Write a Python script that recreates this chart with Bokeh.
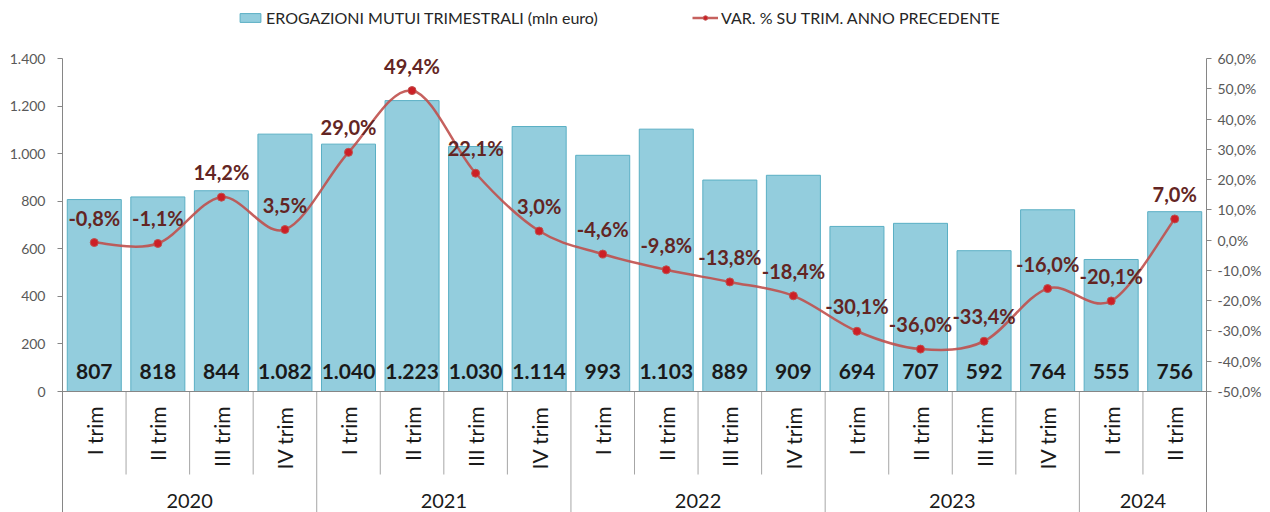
import numpy as np
from bokeh.plotting import figure
from bokeh.models import (Range1d, LinearAxis, FixedTicker, Span, Legend, LegendItem,
                          ColumnDataSource)
from bokeh.core.properties import value
from bokeh.embed import file_html
from bokeh.resources import INLINE

# ---------------- data ----------------
quarters = ["I trim", "II trim", "III trim", "IV trim",
            "I trim", "II trim", "III trim", "IV trim",
            "I trim", "II trim", "III trim", "IV trim",
            "I trim", "II trim", "III trim", "IV trim",
            "I trim", "II trim"]
years = ["2020", "2021", "2022", "2023", "2024"]
year_sizes = [4, 4, 4, 4, 2]
erogazioni = [807, 818, 844, 1082, 1040, 1223, 1030, 1114, 993, 1103,
              889, 909, 694, 707, 592, 764, 555, 756]
var_pct = [-0.8, -1.1, 14.2, 3.5, 29.0, 49.4, 22.1, 3.0, -4.6, -9.8,
           -13.8, -18.4, -30.1, -36.0, -33.4, -16.0, -20.1, 7.0]
left_ticks = [0, 200, 400, 600, 800, 1000, 1200, 1400]
left_tick_labels = ["0", "200", "400", "600", "800", "1.000", "1.200", "1.400"]
right_ticks = [-50, -40, -30, -20, -10, 0, 10, 20, 30, 40, 50, 60]
right_tick_labels = ["-50,0%", "-40,0%", "-30,0%", "-20,0%", "-10,0%", "0,0%",
                     "10,0%", "20,0%", "30,0%", "40,0%", "50,0%", "60,0%"]
bar_legend = "EROGAZIONI MUTUI TRIMESTRALI (mln euro)"
line_legend = "VAR. % SU TRIM. ANNO PRECEDENTE"

# ---------------- layout ----------------
W, H = 1270, 512
FONT = "Lato"
top_px, zero_px = 58, 391          # figure px of 1400 / 0
k_left = 1400 / (zero_px - top_px)
k_right = 110 / (zero_px - top_px)
left_start = -(H - zero_px) * k_left
left_end = 1400 + top_px * k_left
right_start = -50 - (H - zero_px) * k_right
right_end = 60 + top_px * k_right

n = len(erogazioni)
x = np.arange(n)

p = figure(width=W, height=H, output_backend="svg", toolbar_location=None,
           x_range=Range1d(-0.5, n - 0.5), y_range=Range1d(left_start, left_end),
           min_border_left=62, min_border_right=64, min_border_top=0, min_border_bottom=0)
p.extra_y_ranges = {"pct": Range1d(right_start, right_end)}
p.xaxis.visible = False
p.yaxis.visible = False
p.grid.visible = False
p.outline_line_color = None
p.background_fill_color = None
p.border_fill_color = "white"

AX_COLOR = "#868686"
LBL_COLOR = "#595959"

la = LinearAxis(ticker=FixedTicker(ticks=left_ticks),
                major_label_overrides={t: l for t, l in zip(left_ticks, left_tick_labels)},
                bounds=(left_start, 1400))
ra = LinearAxis(y_range_name="pct", ticker=FixedTicker(ticks=right_ticks),
                major_label_overrides={t: l for t, l in zip(right_ticks, right_tick_labels)},
                bounds=(right_start, 60))
for ax, so in ((la, 12), (ra, 6)):
    ax.axis_line_color = AX_COLOR
    ax.major_tick_line_color = AX_COLOR
    ax.major_tick_out = 5
    ax.major_tick_in = 0
    ax.minor_tick_line_color = None
    ax.major_label_text_font = FONT
    ax.major_label_text_font_size = "14px"
    ax.major_label_text_color = LBL_COLOR
    ax.major_label_standoff = so
p.add_layout(la, "left")
p.add_layout(ra, "right")

# zero line
p.add_layout(Span(location=0, dimension="width", line_color=AX_COLOR, line_width=1))

# separators under the axis
sep_short = -(474 - zero_px) * k_left
bounds_idx = np.cumsum([0] + year_sizes)
year_edges = [b - 0.5 for b in bounds_idx]
inner = [i - 0.5 for i in range(1, n) if i not in bounds_idx]
p.segment(x0=inner, y0=[0] * len(inner), x1=inner, y1=[sep_short] * len(inner),
          line_color="#A6A6A6", line_width=1)
p.segment(x0=year_edges[1:-1], y0=[0] * (len(year_edges) - 2), x1=year_edges[1:-1],
          y1=[left_start] * (len(year_edges) - 2), line_color="#A6A6A6", line_width=1)

# bars
src = ColumnDataSource(dict(x=x, top=erogazioni, lab=[f"{v:,}".replace(",", ".") for v in erogazioni],
                            zero=[0] * n))
bars = p.vbar(x="x", top="top", bottom=0, width=0.85, source=src,
              fill_color="#93CDDD", line_color="#5AAFC4", line_width=1)
p.text(x="x", y="zero", text="lab", source=src, y_offset=-20,
       text_align="center", text_baseline="middle", text_font=value(FONT),
       text_font_style="bold", text_font_size="21px", text_color="#1A1A1A")

# smooth line (Catmull-Rom -> cubic Bezier, like Excel smoothing)
P = np.array(var_pct, dtype=float)
Pm = np.concatenate([[P[0]], P, [P[-1]]])
xm = np.concatenate([[x[0]], x, [x[-1]]]).astype(float)
x0 = xm[1:-2]; y0 = Pm[1:-2]
x1 = xm[2:-1]; y1 = Pm[2:-1]
cx0 = x0 + (xm[2:-1] - xm[0:-3]) / 6; cy0 = y0 + (Pm[2:-1] - Pm[0:-3]) / 6
cx1 = x1 - (xm[3:] - xm[1:-2]) / 6; cy1 = y1 - (Pm[3:] - Pm[1:-2]) / 6
bez = p.bezier(x0=x0, y0=y0, x1=x1, y1=y1, cx0=cx0, cy0=cy0, cx1=cx1, cy1=cy1,
               y_range_name="pct", line_color="#C0504D", line_width=2.5, line_alpha=0.9)
sc = p.scatter(x=x, y=P, y_range_name="pct", marker="circle", size=8,
               fill_color="#CC1F26", line_color="#C0504D", line_width=1)
p.text(x=x, y=P, text=[f"{v:.1f}%".replace(".", ",") for v in var_pct], y_range_name="pct",
       y_offset=-13, text_align="center", text_baseline="bottom", text_font=value(FONT),
       text_font_style="bold", text_font_size="20px", text_color="#632523")

# category labels
p.text(x=x, y=[0] * n, text=quarters, angle=np.pi / 2, y_offset=15,
       text_align="right", text_baseline="middle", text_font=value(FONT),
       text_font_size="21px", text_color="#1A1A1A")
yc = [(year_edges[i] + year_edges[i + 1]) / 2 for i in range(len(years))]
p.text(x=yc, y=[0] * len(years), text=years, y_offset=109,
       text_align="center", text_baseline="middle", text_font=value(FONT),
       text_font_size="20px", text_color="#1A1A1A")

# legends
def mk_legend(items, loc, gw):
    lg = Legend(items=items, location=loc, orientation="horizontal",
                border_line_color=None, background_fill_alpha=0, padding=0, margin=0,
                glyph_width=gw, glyph_height=11, label_standoff=3, label_height=14,
                label_text_font=FONT, label_text_font_size="16px", label_text_color="#262626")
    p.add_layout(lg, "center")

mk_legend([LegendItem(label=bar_legend, renderers=[bars])], (175, 485), 26)
mk_legend([LegendItem(label=line_legend, renderers=[bez, sc])], (630, 485), 26)

open("out.html", "w").write(file_html(p, INLINE))
